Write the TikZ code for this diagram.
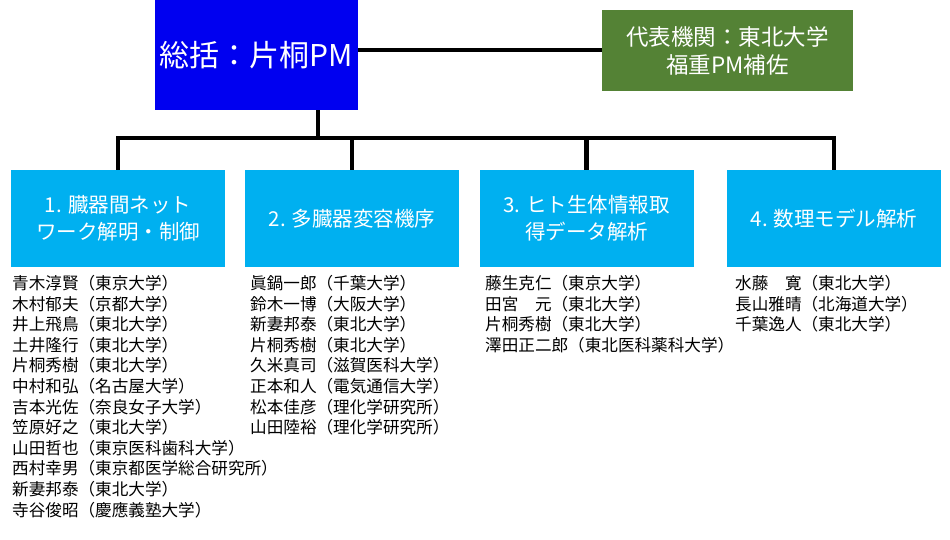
\documentclass[tikz,border=0pt]{standalone}
\usepackage{fontspec}
\setmainfont{Noto Sans CJK JP}
\usetikzlibrary{positioning}
\definecolor{pmblue}{RGB}{0,0,240}
\definecolor{subgreen}{RGB}{84,130,53}
\definecolor{teamcyan}{RGB}{0,176,240}

\begin{document}
\begin{tikzpicture}[x=1pt,y=-1pt]
            \tikzset{team/.style={fill=teamcyan,text=white,minimum width=214pt,minimum height=97pt,
                align=center,font=\fontsize{20.5}{27}\selectfont,inner sep=0pt}}
            \tikzset{members/.style={anchor=north west,align=left,inner sep=0pt,
                font=\fontsize{16.6}{20.6}\selectfont}}
            \tikzset{link/.style={line width=4.5pt}}
            \useasboundingbox (0,0) rectangle (950,540);
            % head and deputy
            \node[fill=pmblue,text=white,minimum width=203pt,minimum height=110pt,inner sep=0pt,
                font=\fontsize{30}{36}\selectfont] (head) at (256.5,55) {総括：片桐PM};
            \node[fill=subgreen,text=white,minimum width=251pt,minimum height=81pt,align=center,inner sep=0pt,
                font=\fontsize{22.5}{28}\selectfont] (deputy) at (727.5,50.5) {代表機関：東北大学\\福重PM補佐};
            \draw[link] (head.east |- 0,50) -- (deputy.west |- 0,50);
            % teams
            \node[team] (t1) at (118,218.5) {1. 臓器間ネット\\ワーク解明・制御};
            \node[team] (t2) at (352,218.5) {2. 多臓器変容機序};
            \node[team] (t3) at (586.5,218.5) {3. ヒト生体情報取\\得データ解析};
            \node[team] (t4) at (834,218.5) {4. 数理モデル解析};
            \coordinate (bus) at (318,138);
            \draw[link] (head.south -| bus) -- (bus);
            \draw[link] (t1.north) |- (bus) -| (t4.north);
            \foreach \t in {t2,t3}
                \draw[link] (\t.north |- bus) -- (\t.north);
            % members
            \node[members] (m1) at (12,275) {青木淳賢（東京大学）\\木村郁夫（京都大学）\\井上飛鳥（東北大学）\\土井隆行（東北大学）\\片桐秀樹（東北大学）\\中村和弘（名古屋大学）\\吉本光佐（奈良女子大学）\\笠原好之（東北大学）\\山田哲也（東京医科歯科大学）\\西村幸男（東京都医学総合研究所）\\新妻邦泰（東北大学）\\寺谷俊昭（慶應義塾大学）};
            \node[members] (m2) at (250,275) {眞鍋一郎（千葉大学）\\鈴木一博（大阪大学）\\新妻邦泰（東北大学）\\片桐秀樹（東北大学）\\久米真司（滋賀医科大学）\\正本和人（電気通信大学）\\松本佳彦（理化学研究所）\\山田陸裕（理化学研究所）};
            \node[members] (m3) at (485,275) {藤生克仁（東京大学）\\田宮　元（東北大学）\\片桐秀樹（東北大学）\\澤田正二郎（東北医科薬科大学）};
            \node[members] (m4) at (735,275) {水藤　寛（東北大学）\\長山雅晴（北海道大学）\\千葉逸人（東北大学）};
\end{tikzpicture}
\end{document}
